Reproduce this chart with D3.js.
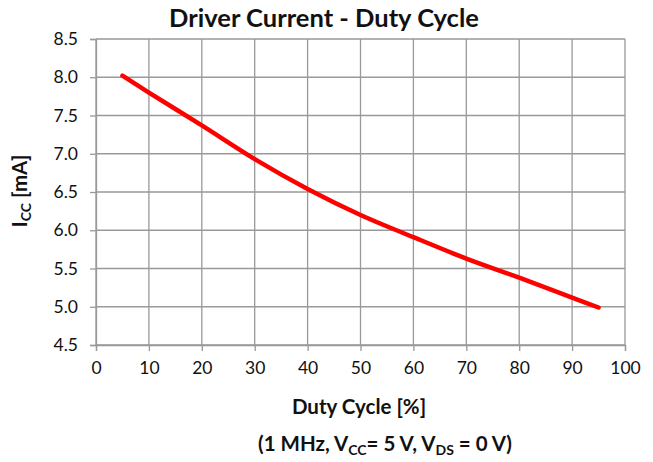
<!DOCTYPE html>
<html>
  <head>
    <meta charset="utf-8">
    <script src="https://d3js.org/d3.v7.min.js"></script>
    <style>
      body { margin: 0px; background: #fff; }
      text { font-family: Lato, 'Open Sans', sans-serif; fill: #111; }
      .tick text { font-size: 17.5px; }
      .title { font-size: 25.5px; font-weight: bold; }
      .axis-label { font-size: 20.5px; font-weight: bold; }
      .sub { font-size: 14px; }
    </style>
  </head>
  <body>
    <script>
      const duty = [5, 10, 20, 30, 40, 50, 60, 70, 80, 90, 95];
      const icc = [8.02, 7.80, 7.37, 6.93, 6.54, 6.20, 5.91, 5.63, 5.38, 5.12, 4.99];
      const xTicks = [0, 10, 20, 30, 40, 50, 60, 70, 80, 90, 100];
      const yTicks = [4.5, 5.0, 5.5, 6.0, 6.5, 7.0, 7.5, 8.0, 8.5];

      const width = 653, height = 462;
      const margin = { left: 96, right: 28, top: 39, bottom: 117 };
      const innerWidth = width - margin.left - margin.right;
      const innerHeight = height - margin.top - margin.bottom;

      const svg = d3.select('body').append('svg')
        .attr('width', width)
        .attr('height', height);

      const g = svg.append('g')
        .attr('transform', `translate(${margin.left},${margin.top})`);

      const xScale = d3.scaleLinear().domain([0, 100]).range([0, innerWidth]);
      const yScale = d3.scaleLinear().domain([4.5, 8.5]).range([innerHeight, 0]);

      // grid
      g.append('g').selectAll('line').data(xTicks)
        .enter().append('line')
          .attr('x1', d => xScale(d)).attr('x2', d => xScale(d))
          .attr('y1', 0).attr('y2', innerHeight)
          .attr('stroke', '#999').attr('stroke-width', 1.3);
      g.append('g').selectAll('line').data(yTicks)
        .enter().append('line')
          .attr('x1', 0).attr('x2', innerWidth)
          .attr('y1', d => yScale(d)).attr('y2', d => yScale(d))
          .attr('stroke', '#999').attr('stroke-width', 1.3);

      const xAxis = d3.axisBottom(xScale)
        .tickValues(xTicks)
        .tickFormat(d3.format('d'))
        .tickSize(6)
        .tickPadding(11);
      const yAxis = d3.axisLeft(yScale)
        .tickValues(yTicks)
        .tickFormat(d3.format('.1f'))
        .tickSize(6)
        .tickPadding(12);

      const xAxisG = g.append('g')
        .attr('transform', `translate(0,${innerHeight})`)
        .call(xAxis);
      const yAxisG = g.append('g').call(yAxis);
      [xAxisG, yAxisG].forEach(a => {
        a.select('.domain').attr('stroke', '#999').attr('stroke-width', 1.3);
        a.selectAll('.tick line').attr('stroke', '#999').attr('stroke-width', 1.3);
        a.selectAll('.tick text').attr('fill', '#111');
      });

      const line = d3.line()
        .x((d, i) => xScale(duty[i]))
        .y(d => yScale(d))
        .curve(d3.curveMonotoneX);

      g.append('path')
        .datum(icc)
        .attr('d', line)
        .attr('fill', 'none')
        .attr('stroke', '#ff0000')
        .attr('stroke-width', 4.5)
        .attr('stroke-linecap', 'round');

      svg.append('text')
        .attr('class', 'title')
        .attr('x', 324).attr('y', 27)
        .attr('text-anchor', 'middle')
        .text('Driver Current - Duty Cycle');

      svg.append('text')
        .attr('class', 'axis-label')
        .attr('x', 359).attr('y', 414)
        .attr('text-anchor', 'middle')
        .text('Duty Cycle [%]');

      const sub = svg.append('text')
        .attr('class', 'axis-label')
        .attr('x', 385).attr('y', 451)
        .attr('text-anchor', 'middle');
      sub.append('tspan').text('(1 MHz, V');
      sub.append('tspan').attr('class', 'sub').attr('dy', 4).text('CC');
      sub.append('tspan').attr('dy', -4).text('= 5 V, V');
      sub.append('tspan').attr('class', 'sub').attr('dy', 4).text('DS');
      sub.append('tspan').attr('dy', -4).text(' = 0 V)');

      const yl = svg.append('text')
        .attr('class', 'axis-label')
        .attr('transform', 'translate(27,191) rotate(-90)')
        .attr('text-anchor', 'middle');
      yl.append('tspan').text('I');
      yl.append('tspan').attr('class', 'sub').attr('dy', 4).text('CC');
      yl.append('tspan').attr('dy', -4).text(' [mA]');
    </script>
  </body>
</html>
